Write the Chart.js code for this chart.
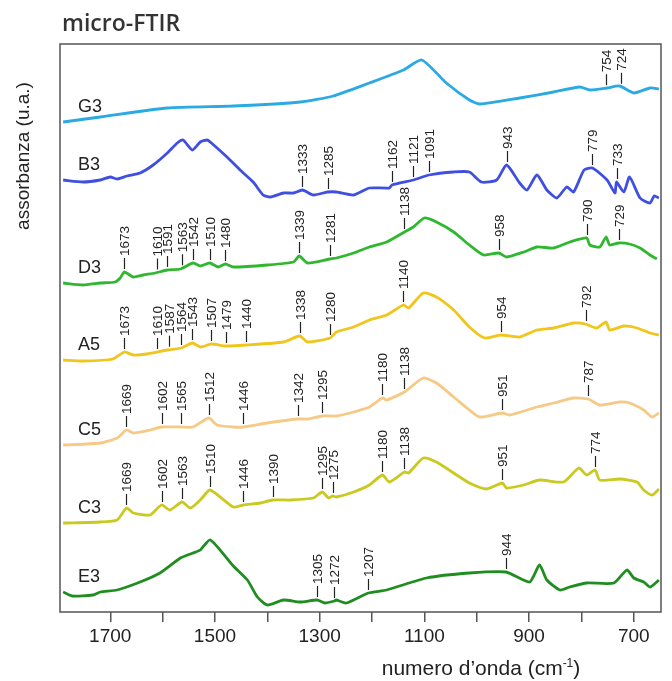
<!DOCTYPE html>
<html>
<head>
<meta charset="utf-8">
<script src="https://cdn.jsdelivr.net/npm/chart.js"></script>
<style>
  body { margin: 0; background: #fff; }
</style>
</head>
<body>
<canvas id="ftir" width="672" height="681"></canvas>
<script>
// spectra (wavenumber in cm-1, absorbance in arbitrary units, stacked)
const seriesNames = ["G3", "B3", "D3", "A5", "C5", "C3", "E3"];

const g3Wave = [1790, 1719, 1591, 1465, 1337, 1274, 1205, 1140, 1105, 1058,
  1014, 994, 918, 853, 803, 784, 751, 727, 700, 669, 652];
const g3Abs = [490, 495, 504, 506, 510, 516, 529, 542, 552, 529,
  512, 508, 514, 520, 525, 522, 524, 526, 519, 524, 523];

const b3Wave = [1790, 1752, 1719, 1700, 1687, 1668, 1643, 1618, 1591, 1572,
  1561, 1543, 1528, 1515, 1509, 1477, 1452, 1427, 1408, 1394,
  1369, 1350, 1333, 1312, 1285, 1268, 1235, 1205, 1167, 1162,
  1121, 1091, 1044, 1014, 991, 962, 943, 918, 904, 885,
  866, 847, 828, 815, 795, 779, 751, 736, 733, 719,
  708, 688, 669, 661, 652];
const b3Abs = [432, 430, 432, 435, 433, 436, 439, 447, 459, 469,
  472, 462, 470, 472, 470, 455, 442, 430, 417, 415,
  419, 419, 422, 417, 420, 420, 417, 424, 424, 427,
  432, 437, 440, 440, 430, 432, 447, 429, 422, 437,
  422, 414, 425, 420, 442, 444, 432, 419, 430, 420,
  435, 414, 409, 416, 414];

const d3Wave = [1790, 1752, 1719, 1691, 1681, 1673, 1656, 1637, 1614, 1591,
  1566, 1542, 1528, 1510, 1494, 1480, 1465, 1400, 1350, 1339,
  1323, 1281, 1268, 1235, 1205, 1172, 1138, 1121, 1100, 1077,
  1044, 1014, 987, 958, 943, 910, 885, 853, 822, 790,
  784, 765, 753, 746, 729, 708, 688, 669, 656];
const d3Abs = [329, 327, 329, 330, 334, 340, 335, 337, 339, 342,
  343, 349, 346, 349, 345, 348, 345, 347, 350, 356,
  349, 353, 354, 359, 365, 370, 380, 385, 394, 390,
  380, 367, 357, 359, 355, 360, 365, 364, 370, 374,
  367, 365, 375, 367, 369, 368, 364, 357, 353];

const a5Wave = [1790, 1752, 1695, 1673, 1656, 1630, 1591, 1564, 1543, 1528,
  1507, 1479, 1440, 1369, 1338, 1323, 1280, 1268, 1235, 1205,
  1172, 1140, 1130, 1102, 1077, 1044, 1014, 985, 954, 918,
  885, 853, 815, 792, 771, 753, 746, 719, 694, 669, 652];
const a5Abs = [252, 251, 253, 260, 257, 258, 262, 264, 269, 265,
  268, 266, 267, 270, 276, 270, 274, 280, 285, 292,
  297, 307, 304, 319, 315, 302, 285, 274, 277, 275,
  282, 284, 289, 288, 284, 290, 282, 286, 284, 279, 277];

const c5Wave = [1790, 1719, 1687, 1669, 1656, 1624, 1602, 1565, 1542, 1512,
  1496, 1465, 1446, 1400, 1342, 1323, 1295, 1268, 1235, 1205,
  1180, 1172, 1138, 1102, 1077, 1044, 1014, 994, 951, 937,
  885, 853, 815, 787, 765, 727, 708, 681, 665, 652];
const c5Abs = [167, 169, 174, 182, 179, 182, 185, 185, 185, 194,
  187, 185, 185, 189, 193, 193, 196, 196, 200, 205,
  214, 212, 220, 234, 229, 215, 202, 195, 199, 197,
  205, 209, 214, 213, 207, 210, 209, 202, 195, 199];

const c3Wave = [1790, 1719, 1687, 1669, 1656, 1624, 1602, 1586, 1563, 1547,
  1528, 1510, 1490, 1465, 1446, 1413, 1390, 1356, 1312, 1295,
  1283, 1275, 1268, 1235, 1205, 1180, 1167, 1138, 1130, 1102,
  1077, 1044, 1014, 981, 951, 943, 910, 880, 834, 805,
  790, 774, 765, 727, 694, 681, 665, 652];
const c3Abs = [89, 90, 92, 104, 99, 97, 107, 102, 110, 104,
  112, 122, 115, 105, 107, 109, 112, 112, 114, 120,
  114, 116, 115, 120, 127, 137, 130, 140, 139, 154,
  150, 139, 129, 123, 129, 124, 127, 132, 130, 144,
  137, 142, 132, 133, 130, 122, 117, 123];

const e3Wave = [1790, 1773, 1733, 1719, 1687, 1643, 1605, 1566, 1542, 1528,
  1509, 1465, 1438, 1419, 1400, 1369, 1337, 1305, 1290, 1272,
  1268, 1249, 1207, 1172, 1096, 1014, 944, 899, 880, 866,
  841, 822, 790, 738, 713, 700, 681, 669, 652];
const e3Abs = [20, 16, 17, 20, 22, 30, 39, 54, 59, 62,
  72, 46, 32, 15, 7, 12, 10, 12, 9, 11,
  12, 9, 19, 22, 34, 39, 40, 30, 47, 32,
  22, 25, 29, 29, 42, 34, 30, 25, 32];

// annotated band positions (cm-1)
const g3Peaks = [754, 724];
const b3Peaks = [1333, 1285, 1162, 1121, 1091, 943, 779, 733];
const d3Peaks = [1673, 1610, 1591, 1563, 1542, 1510, 1480, 1339, 1281, 1138, 958, 790, 729];
const a5Peaks = [1673, 1610, 1587, 1564, 1543, 1507, 1479, 1440, 1338, 1280, 1140, 954, 792];
const c5Peaks = [1669, 1602, 1565, 1512, 1446, 1342, 1295, 1180, 1138, 951, 787];
const c3Peaks = [1669, 1602, 1563, 1510, 1446, 1390, 1295, 1275, 1180, 1138, 951, 774];
const e3Peaks = [1305, 1272, 1207, 944];

const waves = [g3Wave, b3Wave, d3Wave, a5Wave, c5Wave, c3Wave, e3Wave];
const absVals = [g3Abs, b3Abs, d3Abs, a5Abs, c5Abs, c3Abs, e3Abs];
const peaks = [g3Peaks, b3Peaks, d3Peaks, a5Peaks, c5Peaks, c3Peaks, e3Peaks];
const colors = ["#2aa9e2", "#3f50e0", "#2fb82f", "#f0c51c", "#f6c985", "#c9c920", "#208d20"];

const FONT = '"Liberation Sans", Arial, sans-serif';

function valueAt(data, w) {
  for (let i = 0; i < data.length - 1; i++) {
    const a = data[i], b = data[i + 1];
    if (w <= a.x && w >= b.x) {
      return a.y + (b.y - a.y) * (a.x - w) / (a.x - b.x);
    }
  }
  return data[data.length - 1].y;
}

const decor = {
  id: "decor",
  afterDatasetsDraw(chart) {
    const { ctx, chartArea: a } = chart;
    const x = chart.scales.x, y = chart.scales.y;
    ctx.save();

    // frame
    ctx.strokeStyle = "#555";
    ctx.lineWidth = 1.5;
    ctx.strokeRect(a.left, a.top, a.right - a.left, a.bottom - a.top);

    chart.data.datasets.forEach((ds, i) => {
      // band labels
      ctx.fillStyle = "#222";
      ctx.strokeStyle = "#222";
      ctx.lineWidth = 1.2;
      ctx.font = "13.5px " + FONT;
      ctx.textAlign = "left";
      ctx.textBaseline = "middle";
      peaks[i].forEach(w => {
        const px = Math.round(x.getPixelForValue(w)) + 0.5;
        const py = y.getPixelForValue(valueAt(ds.data, w)) - 3;
        ctx.beginPath();
        ctx.moveTo(px, py);
        ctx.lineTo(px, py - 11);
        ctx.stroke();
        ctx.save();
        ctx.translate(px, py - 13);
        ctx.rotate(-Math.PI / 2);
        ctx.fillText(String(w), 0, 0.5);
        ctx.restore();
      });
      // sample name
      ctx.font = "18px " + FONT;
      ctx.textBaseline = "alphabetic";
      ctx.fillText(ds.label, 78, y.getPixelForValue(ds.data[0].y) - 10);
    });

    // title
    ctx.fillStyle = "#333";
    ctx.font = '600 23px "Open Sans", sans-serif';
    ctx.textAlign = "left";
    ctx.fillText("micro-FTIR", 62, 31);

    // y title
    ctx.fillStyle = "#222";
    ctx.font = "19px " + FONT;
    ctx.save();
    ctx.translate(29, 156);
    ctx.rotate(-Math.PI / 2);
    ctx.textAlign = "center";
    ctx.fillText("assorbanza (u.a.)", 0, 0);
    ctx.restore();

    // x title with superscript
    const main = "numero d\u2019onda (cm", sup = "-1", tail = ")";
    ctx.font = "21px " + FONT;
    const w1 = ctx.measureText(main).width, w3 = ctx.measureText(tail).width;
    ctx.font = "12px " + FONT;
    const w2 = ctx.measureText(sup).width;
    let sx = 481 - (w1 + w2 + w3) / 2;
    const base = 675;
    ctx.font = "21px " + FONT;
    ctx.fillText(main, sx, base);
    ctx.font = "12px " + FONT;
    ctx.fillText(sup, sx + w1, base - 8);
    ctx.font = "21px " + FONT;
    ctx.fillText(tail, sx + w1 + w2, base);

    ctx.restore();
  }
};

const datasets = seriesNames.map((name, i) => ({
  label: name,
  data: waves[i].map((w, j) => ({ x: w, y: absVals[i][j] })),
  borderColor: colors[i],
  borderWidth: 2.8,
  pointRadius: 0,
  tension: 0.2,
  fill: false
}));

new Chart(document.getElementById("ftir"), {
  type: "line",
  data: { datasets },
  options: {
    responsive: false,
    animation: false,
    layout: { padding: { left: 60, right: 11, top: 44, bottom: 24 } },
    plugins: { legend: { display: false }, tooltip: { enabled: false }, title: { display: false } },
    scales: {
      x: {
        type: "linear",
        reverse: true,
        min: 648,
        max: 1796,
        afterFit(scale) { scale.height = 45; },
        border: { display: false },
        grid: { drawOnChartArea: false, drawTicks: true, tickLength: 10, color: "#555", lineWidth: 1.5 },
        ticks: {
          stepSize: 100,
          includeBounds: false,
          autoSkip: false,
          maxRotation: 0,
          padding: 3,
          color: "#222",
          font: { size: 19, family: FONT },
          callback: v => (v % 200 === 100 ? String(v) : "")
        }
      },
      y: { display: false, min: 0, max: 568 }
    }
  },
  plugins: [decor]
});
</script>
</body>
</html>
